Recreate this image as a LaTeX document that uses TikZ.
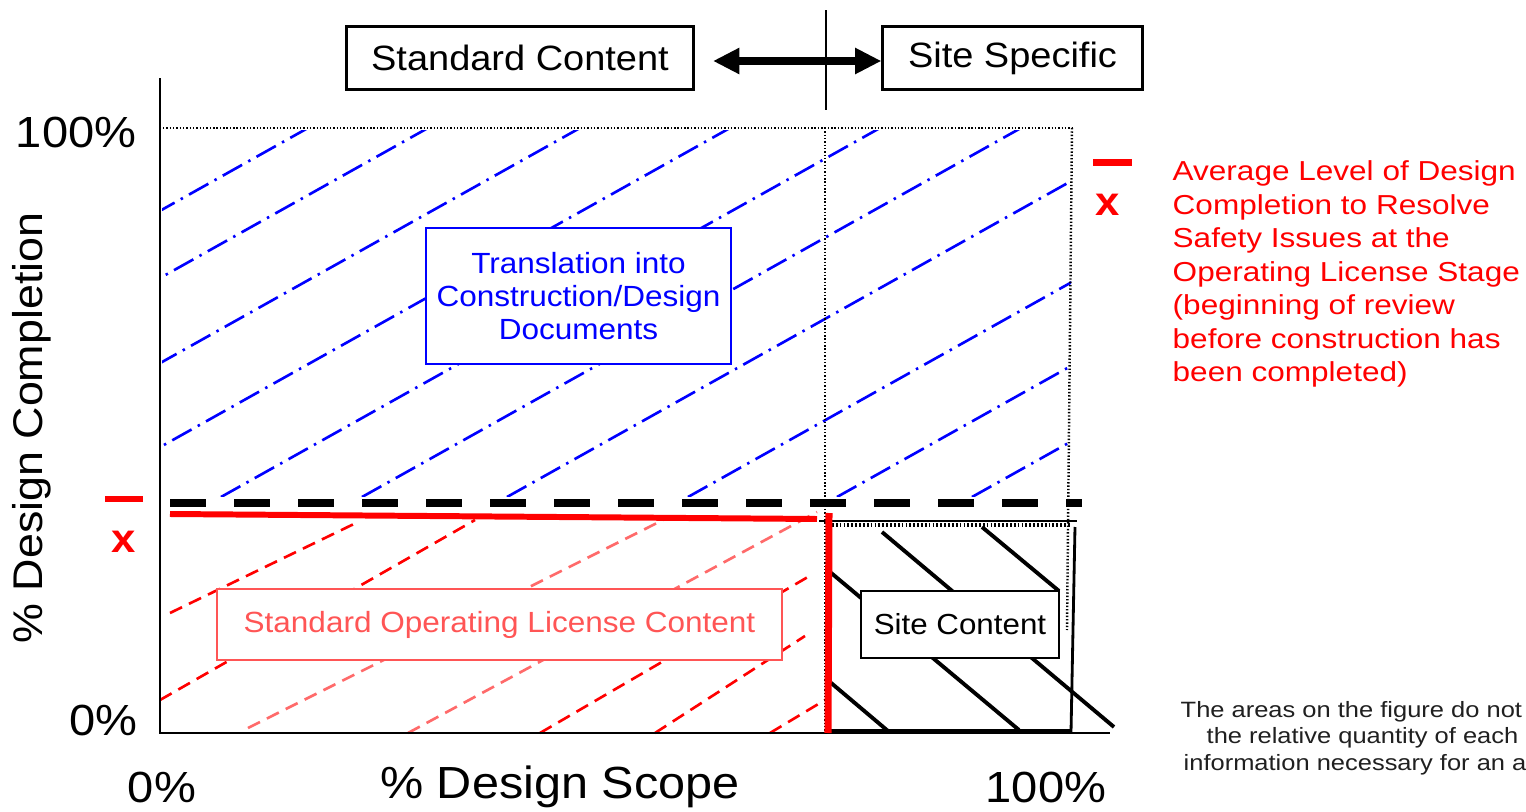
\documentclass[tikz,border=0pt]{standalone}
\usepackage{fontspec}
\setmainfont[FakeStretch=1.08]{Liberation Sans}
\newfontfamily\widefont[FakeStretch=1.15]{Liberation Sans}
\usetikzlibrary{arrows.meta}
\definecolor{lred}{HTML}{FF6A6A}
\definecolor{boxred}{HTML}{FF5555}
\definecolor{notegray}{HTML}{202020}
\tikzset{
  pct/.style={inner sep=0pt, font=\fontsize{12.4}{14}\selectfont},
  topbox/.style={draw, line width=0.85pt, inner sep=0pt, font=\fontsize{10}{12}\selectfont},
  bluehatch/.style={blue, line width=0.75pt, dash pattern=on 6.3pt off 2pt on 0.7pt off 2pt},
  redhatch/.style={red, line width=0.75pt, dash pattern=on 3.8pt off 2.2pt},
  lredhatch/.style={lred, line width=0.75pt, dash pattern=on 3.8pt off 2.2pt},
  blackhatch/.style={black, line width=1.1pt},
  dotline/.style={line width=0.5pt, dash pattern=on 0.4pt off 0.55pt},
  legx/.style={red, inner sep=0pt, font=\fontsize{11.5}{12}\selectfont\bfseries},
}
\begin{document}
\begin{tikzpicture}[x=0.01cm,y=-0.01cm]
\useasboundingbox[fill=white] (0,0) rectangle (1526,812);

% ---------- hatching ----------
\begin{scope}
  \clip (162,130) rectangle (1071,496);
  \foreach \b in {-351,-231,-79,71,221,362,507,688,837,972}
    \draw[bluehatch] (\b,497) -- ++(700,-392);
\end{scope}

\draw[redhatch]  (170,613) -- (358,522);
\draw[redhatch]  (160,700) -- (475,520);
\draw[lredhatch] (248,728) -- (667,518);
\draw[lredhatch] (408,733) -- (817,512);
\draw[redhatch]  (540,733) -- (813,574);
\draw[redhatch]  (655,733) -- (805,636);
\draw[redhatch]  (770,733) -- (825,700);

\draw[blackhatch] (830,682) -- (888,731);
\draw[blackhatch] (830,572) -- (1019,730);
\draw[blackhatch] (882,532) -- (1114,727);
\draw[blackhatch] (982,527) -- (1059,591);

% ---------- frame lines ----------
\coordinate (o) at (160,733);
\coordinate (ytop) at (160,78);
\coordinate (xend) at (1110,733);
\draw[line width=0.8pt] (ytop) -- (o) -- (xend);

\coordinate (dt1) at (163,128);
\coordinate (dt2) at (1073,128);
\draw[dotline] (dt1) -- (dt2);
\coordinate (dv1) at (825,128);
\coordinate (dv2) at (825,733);
\draw[dotline, line width=0.7pt] (dv1) -- (dv2);
\coordinate (dr1) at (1072,128);
\coordinate (dr2) at (1067,630);
\draw[dotline, line width=0.7pt] (dr1) -- (dr2);

% site content region borders
\coordinate (st1) at (819,521);
\coordinate (st2) at (1077,521);
\draw[line width=0.8pt] (st1) -- (st2);
\coordinate (sd1) at (832,525);
\coordinate (sd2) at (1070,525);
\draw[line width=1.2pt, dash pattern=on 0.5pt off 0.6pt] (sd1) -- (sd2);
\coordinate (sr1) at (1075,527);
\coordinate (sr2) at (1071,733);
\draw[line width=0.8pt] (sr1) -- (sr2);
\coordinate (sb1) at (830,731);
\coordinate (sb2) at (1071,731);
\draw[line width=1.2pt] (sb1) -- (sb2);

% black dashed level line
\coordinate (bd1) at (170,503);
\coordinate (bd2) at (1082,503);
\draw[line width=2.1pt, dash pattern=on 10.2pt off 8pt] (bd1) -- (bd2);

% red level lines
\coordinate (rh1) at (170,514);
\coordinate (rh2) at (817,519);
\draw[red, line width=1.7pt] (rh1) -- (rh2);
\coordinate (rv1) at (829,513);
\coordinate (rv2) at (828,733);
\draw[red, line width=2pt] (rv1) -- (rv2);

% ---------- boxes ----------
\node[topbox, minimum width=3.46cm, minimum height=0.62cm] (sc) at (520,58) {Standard Content};
\node[topbox, minimum width=2.59cm, minimum height=0.62cm] (ss) at (1012.5,58) {Site Specific};

\node[draw=blue, fill=white, text=blue, line width=0.75pt, inner sep=0pt,
      minimum width=3.05cm, minimum height=1.36cm, align=center,
      font=\fontsize{8.3}{9.5}\selectfont] (tr) at (578.5,296)
      {Translation into\\Construction/Design\\Documents};

\node[draw=boxred, fill=white, text=boxred, line width=0.55pt, inner sep=0pt,
      minimum width=5.65cm, minimum height=0.71cm,
      font=\fontsize{8.3}{9.5}\selectfont] (sol) at (499.5,624.5)
      {Standard Operating License Content};

\node[draw, fill=white, line width=0.75pt, inner sep=0pt,
      minimum width=1.98cm, minimum height=0.67cm,
      font=\fontsize{8.25}{9.5}\selectfont] (site) at (960,624.5) {Site Content};

% arrow between top boxes
\coordinate (al) at (713,61);
\draw[line width=2.5pt, {Triangle[length=7.5pt,width=7pt]}-{Triangle[length=7.5pt,width=7pt]}] (al) -- (ss.west |- al);
\coordinate (vt) at (826,10);
\coordinate (vb) at (826,110);
\draw[line width=0.7pt] (vt) -- (vb);

% ---------- axis labels ----------
\node[pct, anchor=east] (y100) at (137,132) {100\%};
\node[pct, anchor=east] (y0) at (138,720) {0\%};
\node[pct] (x0) at (162,787) {0\%};
\node[pct] (x100) at (1046,787) {100\%};
\node[inner sep=0pt, font=\fontsize{12.8}{14}\selectfont] (xt) at (560,787) {\% Design Scope};
\node[inner sep=0pt, rotate=90, font=\fontsize{11.8}{14}\selectfont] (yt) at (32,428) {\% Design Completion};

% ---------- legends ----------
\coordinate (lb1) at (105,499);
\coordinate (lb2) at (143,499);
\draw[red, line width=1.8pt] (lb1) -- (lb2);
\node[legx] (lx) at (124,542) {x};

\coordinate (rb1) at (1093,162.5);
\coordinate (rb2) at (1132,162.5);
\draw[red, line width=2pt] (rb1) -- (rb2);
\node[legx] (rx) at (1108,205) {x};

\node[red, inner sep=0pt, anchor=north west, align=left,
      font=\widefont\fontsize{7.8}{9.53}\selectfont] (leg) at (1172,160)
  {Average Level of Design\\Completion to Resolve\\Safety Issues at the\\Operating License Stage\\(beginning of review\\before construction has\\been completed)};

% ---------- note ----------
\node[text=notegray, inner sep=0pt, anchor=base west, font=\widefont\fontsize{6.3}{7.6}\selectfont] (n1) at (1180,717) {The areas on the figure do not};
\node[text=notegray, inner sep=0pt, anchor=base west, font=\widefont\fontsize{6.3}{7.6}\selectfont] (n2) at (1206,743) {the relative quantity of each};
\node[text=notegray, inner sep=0pt, anchor=base west, font=\widefont\fontsize{6.3}{7.6}\selectfont] (n3) at (1183,770) {information necessary for an a};
\end{tikzpicture}
\end{document}
